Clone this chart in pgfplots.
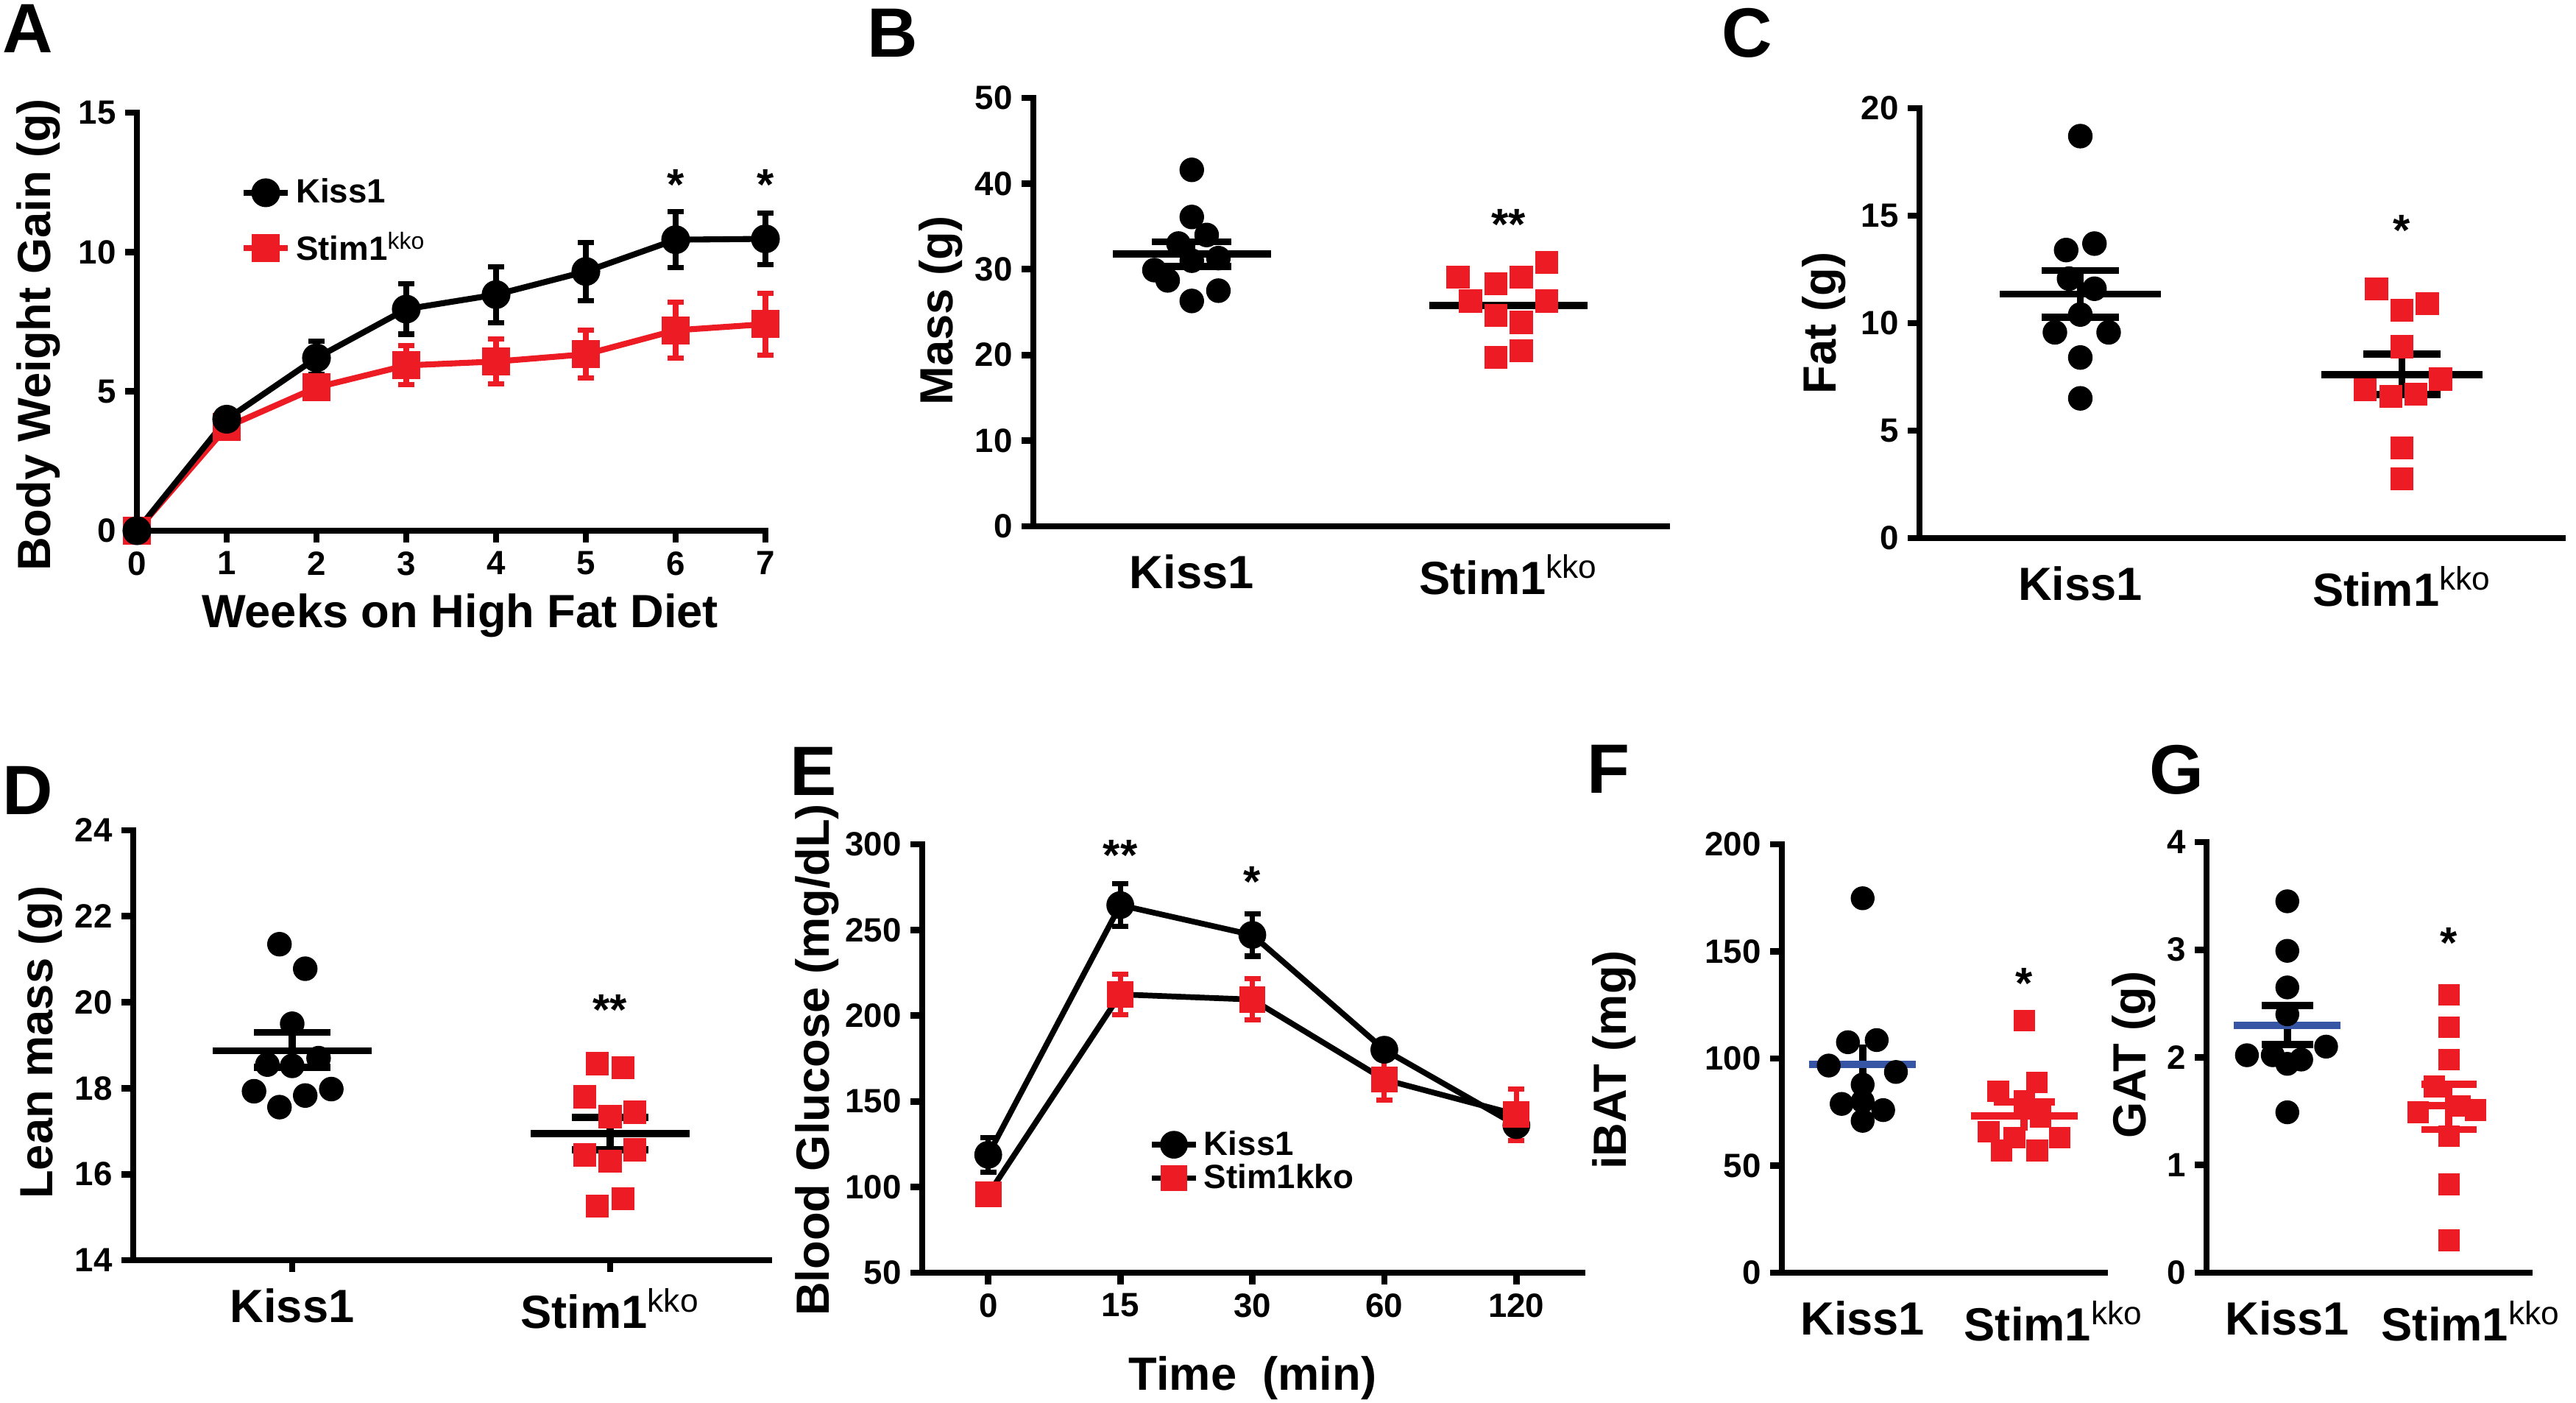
\documentclass[border=0pt]{standalone}
\usepackage{pgfplots}
\pgfplotsset{compat=1.18}
\usepackage{fontspec}
\setmainfont{Liberation Sans}
\definecolor{pr}{RGB}{237,28,36}
\definecolor{pb}{RGB}{55,85,165}
\newcommand\tk{\fontsize{13}{15}\selectfont\bfseries}
\newcommand\lb{\fontsize{18}{21}\selectfont\bfseries}
\newcommand\pl{\fontsize{27}{30}\selectfont\bfseries}
\newcommand\st{\fontsize{17}{18}\selectfont\bfseries}
\newcommand\kko{\textsuperscript{\mdseries kko}}
\pgfplotsset{
 panel/.style={
  scale only axis, anchor=south west, clip=false,
  axis x line*=bottom, axis y line*=left,
  axis line style={line width=2.5pt, line cap=rect, -},
  tick style={black, line width=2.5pt},
  major tick length=0.16cm, tick align=outside,
  tick label style={font=\tk},
  /pgf/number format/assume math mode=true,
 },
 cat/.style={xmin=0.5, xmax=2.5, xtick={1,2}, xticklabels={Kiss1,Stim1\kko}, xticklabel style={font=\lb, yshift=-0.1cm}},
 notickx/.style={xtick style={draw=none}},
 kdot/.style={only marks, mark=*, mark size=0.16cm, mark options={fill=black, draw=black}},
 rsq/.style={only marks, mark=square*, mark size=0.15cm, mark options={fill=pr, draw=pr, rounded corners=1.5pt}},
 mline/.style={line width=2.8pt, mark=none},
 ebar/.style={error bars/.cd, y dir=both, y explicit, error bar style={line width=2pt, #1},
   error mark options={rotate=90, line width=2pt, mark size=0.11cm, #1}},
}
\tikzset{lab/.style={inner sep=0pt}}
\begin{document}
\begin{tikzpicture}
% ---------------- A
\begin{axis}[panel, at={(1.86cm,11.85cm)}, width=8.54cm, height=5.68cm,
 xmin=0, xmax=7, ymin=0, ymax=15, xtick={0,...,7}, ytick={0,5,10,15},
 reverse legend, legend cell align=left,
 legend style={draw=none, fill=none, at={(0.152,0.868)}, anchor=north west, font=\tk, row sep=0.2cm}]
\addplot[pr, line width=2.3pt, mark=square*, mark size=0.15cm, mark options={solid, fill=pr, draw=pr, rounded corners=1.5pt}, ebar=pr]
 coordinates {(0,0)+-(0,0) (1,3.72)+-(0,0.2) (2,5.14)+-(0,0.4) (3,5.93)+-(0,0.7) (4,6.07)+-(0,0.8) (5,6.33)+-(0,0.86) (6,7.19)+-(0,1.0) (7,7.41)+-(0,1.1)};
\addlegendentry{Stim1\kko}
\addplot[black, line width=2.3pt, mark=*, mark size=0.155cm, mark options={solid, fill=black}, ebar=black]
 coordinates {(0,0)+-(0,0) (1,4.0)+-(0,0.25) (2,6.2)+-(0,0.6) (3,7.95)+-(0,0.9) (4,8.47)+-(0,1.0) (5,9.3)+-(0,1.05) (6,10.44)+-(0,1.0) (7,10.47)+-(0,0.93)};
\addlegendentry{Kiss1}
\node[font=\st, yshift=-0.1cm] at (axis cs:6,12.67) {*};
\node[font=\st, yshift=-0.1cm] at (axis cs:7,12.67) {*};
\end{axis}
% ---------------- B
\begin{axis}[panel, cat, notickx, at={(14.04cm,11.91cm)}, width=8.61cm, height=5.82cm,
 ymin=0, ymax=50, ytick={0,10,...,50}]
\addplot[kdot] coordinates {(1,41.6)(1,36.1)(1.047,34.0)(0.958,33.0)(1.084,31.3)(1,31.0)(0.882,29.9)(0.924,28.7)(1.084,27.5)(1,26.3)};
\addplot[rsq] coordinates {(2.12,30.8)(1.84,29.1)(2.04,29.1)(1.96,28.3)(1.88,26.3)(2.12,26.3)(1.96,24.6)(2.04,23.8)(1.96,19.7)(2.04,20.5)};
\addplot[mline, black] coordinates {(1,30.3)(1,33.2)};
\addplot[mline, black] coordinates {(0.875,33.2)(1.125,33.2)};
\addplot[mline, black] coordinates {(0.875,30.3)(1.125,30.3)};
\addplot[mline, black] coordinates {(0.75,31.8)(1.25,31.8)};
\addplot[mline, black] coordinates {(1.75,25.8)(2.25,25.8)};
\node[font=\st, yshift=-0.1cm] at (axis cs:2,36.1) {**};
\end{axis}
% ---------------- C
\begin{axis}[panel, cat, notickx, at={(26.08cm,11.75cm)}, width=8.74cm, height=5.84cm,
 ymin=0, ymax=20, ytick={0,5,...,20}]
\addplot[kdot] coordinates {(1,18.7)(1.044,13.7)(0.956,13.4)(0.965,12.07)(1.044,11.6)(1,10.4)(0.921,9.57)(1.088,9.57)(1,8.4)(1,6.5)};
\addplot[rsq] coordinates {(1.921,11.6)(2.079,10.9)(2,10.6)(2,8.9)(2.12,7.4)(1.886,6.9)(1.965,6.6)(2.044,6.7)(2,4.2)(2,2.75)};
\addplot[mline, black] coordinates {(1,10.28)(1,12.45)};
\addplot[mline, black] coordinates {(0.88,12.45)(1.12,12.45)};
\addplot[mline, black] coordinates {(0.88,10.28)(1.12,10.28)};
\addplot[mline, black] coordinates {(0.75,11.35)(1.25,11.35)};
\addplot[mline, black] coordinates {(2,6.69)(2,8.55)};
\addplot[mline, black] coordinates {(1.88,8.55)(2.12,8.55)};
\addplot[mline, black] coordinates {(1.88,6.69)(2.12,6.69)};
\addplot[mline, black] coordinates {(1.75,7.59)(2.25,7.59)};
\node[font=\st, yshift=-0.1cm] at (axis cs:2,14.66) {*};
\end{axis}
% ---------------- D
\begin{axis}[panel, cat, at={(1.81cm,1.94cm)}, width=8.64cm, height=5.84cm,
 ymin=14, ymax=24, ytick={14,16,...,24}]
\addplot[kdot] coordinates {(0.96,21.35)(1.041,20.78)(1,19.5)(1.083,18.7)(0.922,18.55)(1,18.52)(0.88,17.93)(1.123,17.98)(1.041,17.83)(0.96,17.56)};
\addplot[rsq] coordinates {(1.96,18.57)(2.04,18.48)(1.92,17.8)(2.077,17.44)(2,17.34)(2.077,16.57)(1.92,16.45)(2,16.3)(2.04,15.43)(1.96,15.26)};
\addplot[mline, black] coordinates {(1,18.48)(1,19.3)};
\addplot[mline, black] coordinates {(0.88,19.3)(1.12,19.3)};
\addplot[mline, black] coordinates {(0.88,18.48)(1.12,18.48)};
\addplot[mline, black] coordinates {(0.75,18.87)(1.25,18.87)};
\addplot[mline, black] coordinates {(2,16.57)(2,17.32)};
\addplot[mline, black] coordinates {(1.88,17.32)(2.12,17.32)};
\addplot[mline, black] coordinates {(1.88,16.57)(2.12,16.57)};
\addplot[mline, black] coordinates {(1.75,16.94)(2.25,16.94)};
\node[font=\st, yshift=-0.1cm] at (axis cs:2,20.0) {**};
\end{axis}
% ---------------- E
\begin{axis}[panel, at={(12.53cm,1.77cm)}, width=8.97cm, height=5.82cm,
 xmin=-0.5, xmax=4.5, ymin=50, ymax=300, ytick={50,100,...,300},
 xtick={0,...,4}, xticklabels={0,15,30,60,120}, legend cell align=left,
 legend style={draw=none, fill=none, at={(0.331,0.357)}, anchor=north west, font=\tk, row sep=-2pt}]
\addplot[black, line width=2.2pt, mark=*, mark size=0.15cm, mark options={solid, fill=black}, ebar=black]
 coordinates {(0,118.8)+-(0,10) (1,264.5)+-(0,12.4) (2,247.1)+-(0,12.4) (3,180.1)+-(0,4) (4,136.1)+-(0,5)};
\addlegendentry{Kiss1}
\addplot[black, line width=2.2pt, mark=square*, mark size=0.14cm, mark options={solid, fill=pr, draw=pr, rounded corners=1.5pt}, ebar=pr]
 coordinates {(0,95.7)+-(0,3) (1,212.4)+-(0,11.8) (2,209.4)+-(0,12) (3,162.7)+-(0,12) (4,142.3)+-(0,15)};
\addlegendentry{Stim1kko}
\node[font=\st, yshift=-0.1cm] at (axis cs:1,298) {**};
\node[font=\st, yshift=-0.1cm] at (axis cs:2,282.6) {*};
\end{axis}
% ---------------- F
\begin{axis}[panel, cat, notickx, at={(24.21cm,1.77cm)}, width=4.39cm, height=5.82cm,
 ymin=0, ymax=200, ytick={0,50,...,200}, xticklabels={Kiss1,\hspace*{0.8cm}Stim1\kko},
 kdot/.append style={mark size=0.155cm}, rsq/.append style={mark size=0.14cm}]
\addplot[kdot] coordinates {(1,174.8)(1.087,108.6)(0.909,107.6)(0.79,96.7)(1.206,93.7)(1,87.8)(1,80)(0.87,78.8)(1.127,75.9)(1,70.9)};
\addplot[rsq] coordinates {(2,117.6)(2.079,88.8)(1.84,84.8)(2,80)(2.1,72.9)(1.78,65.9)(2.22,63)(1.94,63)(2.08,57)(1.86,57)};
\addplot[mline, black] coordinates {(1,87.6)(1,106.6)};
\addplot[mline, pb] coordinates {(0.67,97.1)(1.33,97.1)};
\addplot[mline, pr] coordinates {(2,66.3)(2,79.8)};
\addplot[mline, pr] coordinates {(1.81,79.8)(2.19,79.8)};
\addplot[mline, pr] coordinates {(1.67,73.3)(2.33,73.3)};
\node[font=\st, yshift=-0.1cm] at (axis cs:2,138.4) {*};
\end{axis}
% ---------------- G
\begin{axis}[panel, cat, notickx, at={(29.98cm,1.77cm)}, width=4.39cm, height=5.85cm,
 ymin=0, ymax=4, ytick={0,...,4}, xticklabels={Kiss1,\hspace*{0.6cm}Stim1\kko},
 kdot/.append style={mark size=0.155cm}, rsq/.append style={mark size=0.14cm}]
\addplot[kdot] coordinates {(1,3.45)(1,2.99)(1,2.65)(1,2.4)(1.24,2.1)(0.75,2.02)(0.91,2.02)(1.086,1.98)(1,1.94)(1,1.49)};
\addplot[rsq] coordinates {(2,2.58)(2,2.28)(2,1.98)(1.91,1.73)(2.165,1.51)(1.81,1.49)(2.067,1.55)(2,1.27)(2,0.82)(2,0.3)};
\addplot[mline, black] coordinates {(1,2.12)(1,2.48)};
\addplot[mline, black] coordinates {(0.84,2.48)(1.16,2.48)};
\addplot[mline, black] coordinates {(0.84,2.12)(1.16,2.12)};
\addplot[mline, pb] coordinates {(0.67,2.3)(1.33,2.3)};
\addplot[mline, pr] coordinates {(2,1.33)(2,1.75)};
\addplot[mline, pr] coordinates {(1.83,1.75)(2.17,1.75)};
\addplot[mline, pr] coordinates {(1.83,1.33)(2.17,1.33)};
\addplot[mline, pr] coordinates {(1.78,1.55)(2.22,1.55)};
\node[font=\st, yshift=-0.1cm] at (axis cs:2,3.13) {*};
\end{axis}
% ---------------- panel letters
\node[lab, font=\pl] at (0.38,18.67) {A};
\node[lab, font=\pl] at (12.13,18.61) {B};
\node[lab, font=\pl] at (23.74,18.61) {C};
\node[lab, font=\pl] at (0.38,8.32) {D};
\node[lab, font=\pl] at (11.05,8.58) {E};
\node[lab, font=\pl] at (21.85,8.61) {F};
\node[lab, font=\pl] at (29.57,8.60) {G};
% ---------------- axis titles
\node[lab, font=\lb, rotate=90] at (0.52,14.51) {Body Weight Gain (g)};
\node[lab, font=\lb] at (6.25,10.70) {Weeks on High Fat Diet};
\node[lab, font=\lb, rotate=90] at (12.78,14.84) {Mass (g)};
\node[lab, font=\lb, rotate=90] at (24.78,14.67) {Fat (g)};
\node[lab, font=\lb, rotate=90] at (0.55,4.90) {Lean mass (g)};
\node[lab, font=\lb, rotate=90] at (11.10,4.66) {Blood Glucose (mg/dL)};
\node[lab, font=\lb] at (17.02,0.34) {Time\ \ (min)};
\node[lab, font=\lb, rotate=90] at (21.93,4.66) {iBAT (mg)};
\node[lab, font=\lb, rotate=90] at (28.99,4.73) {GAT (g)};
\path (0,0) rectangle (35,19.06);
\end{tikzpicture}
\end{document}
